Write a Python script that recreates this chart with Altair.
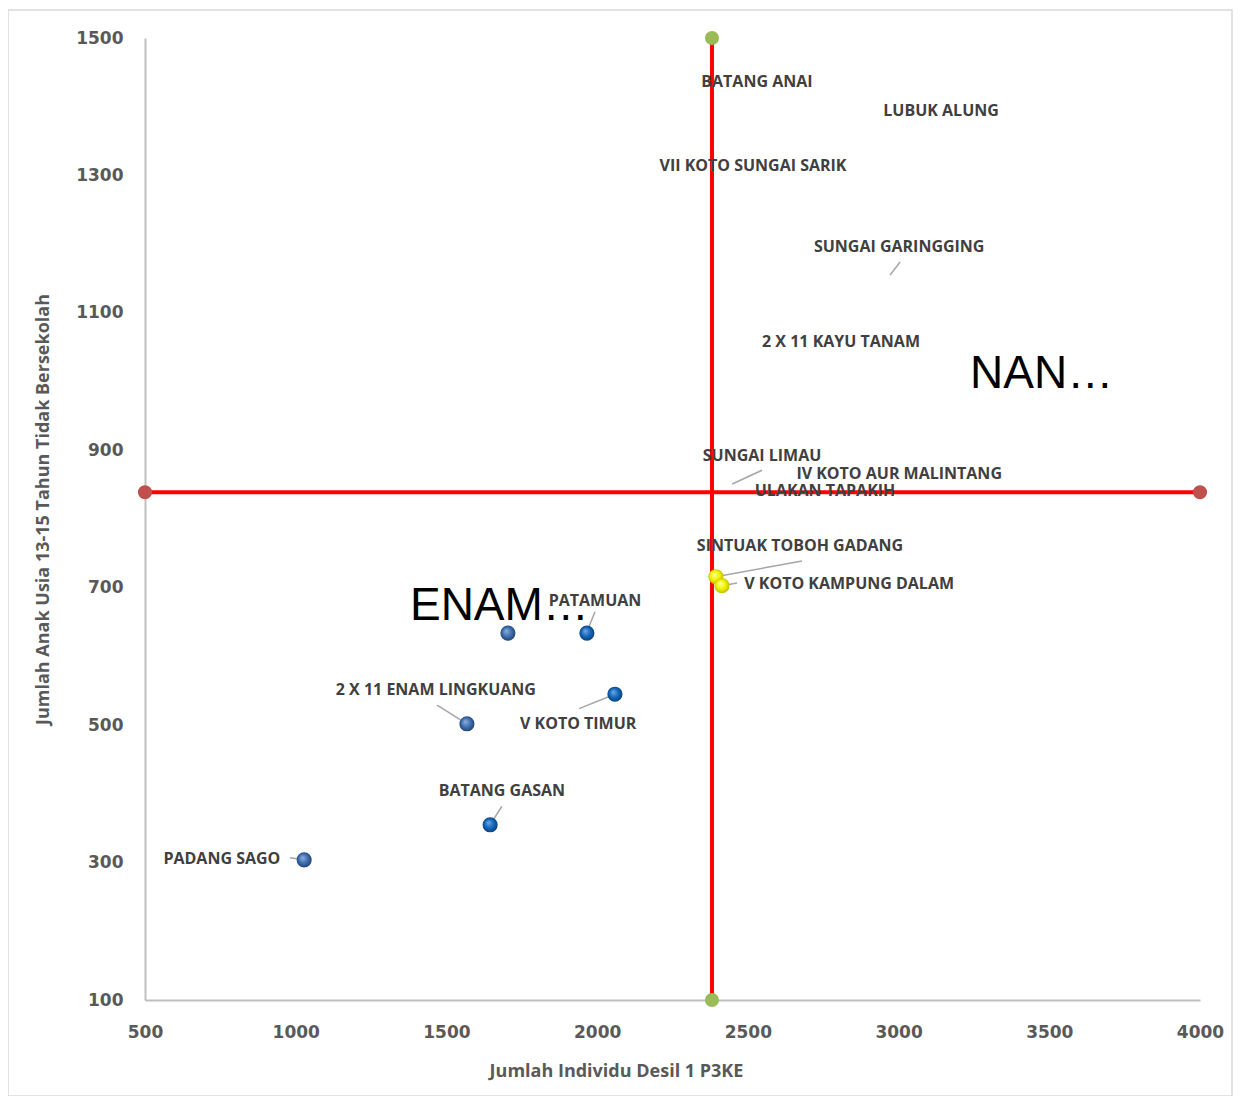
import altair as alt
import pandas as pd

# ---- data ----
pt_names = ["", "PATAMUAN", "V KOTO TIMUR", "2 X 11 ENAM LINGKUANG", "BATANG GASAN", "PADANG SAGO",
            "SINTUAK TOBOH GADANG", "V KOTO KAMPUNG DALAM"]
pt_x = [1704, 1966, 2059, 1568, 1645, 1028, 2394, 2414]
pt_y = [634, 634, 545, 502, 355, 304, 716, 703]
pt_group = ["steel", "blue", "blue", "steel", "blue", "steel", "yellow", "yellow"]

lbl_names = ["BATANG ANAI", "LUBUK ALUNG", "VII KOTO SUNGAI SARIK", "SUNGAI GARINGGING",
             "2 X 11 KAYU TANAM", "SUNGAI LIMAU", "IV KOTO AUR MALINTANG", "ULAKAN TAPAKIH",
             "SINTUAK TOBOH GADANG", "V KOTO KAMPUNG DALAM", "PATAMUAN", "2 X 11 ENAM LINGKUANG",
             "V KOTO TIMUR", "BATANG GASAN", "PADANG SAGO"]
lbl_x = [2530, 3141, 2517, 3002, 2809, 2547, 3002, 2756, 2673, 2836, 1993, 1465, 1937, 1684, 755]
lbl_y = [1436, 1394, 1314, 1196, 1058, 892, 866, 841, 761, 706, 681, 551, 502, 404, 305]

lead_x1 = [3005, 2547, 1993, 1469, 1940, 1684, 981, 2680, 2464]
lead_y1 = [1174, 871, 665, 529, 524, 382, 307, 739, 707]
lead_x2 = [2972, 2448, 1966, 1568, 2059, 1645, 1028, 2394, 2414]
lead_y2 = [1155, 851, 636, 502, 545, 355, 304, 716, 703]

quad_names = ["NAN…", "ENAM…"]
quad_x = [3237, 1379]
quad_y = [991, 653]

mean_x = 2381
mean_y = 839
x_min, x_max = 500, 4000
y_min, y_max = 100, 1500

pts = pd.DataFrame({"name": pt_names, "x": pt_x, "y": pt_y, "grp": pt_group})
lbls = pd.DataFrame({"name": lbl_names, "x": lbl_x, "y": lbl_y})
leads = pd.DataFrame({"x": lead_x1, "y": lead_y1, "x2": lead_x2, "y2": lead_y2})
quads = pd.DataFrame({"name": quad_names, "x": quad_x, "y": quad_y})
rules = pd.DataFrame({"x": [mean_x, x_min], "y": [y_min, mean_y],
                      "x2": [mean_x, x_max], "y2": [y_max, mean_y]})
ends = pd.DataFrame({"x": [mean_x, mean_x, x_min, x_max],
                     "y": [y_max, y_min, mean_y, mean_y],
                     "c": ["g", "g", "r", "r"]})

xs = alt.Scale(domain=[x_min, x_max], nice=False, zero=False)
ys = alt.Scale(domain=[y_min, y_max], nice=False, zero=False)

grey = "#595959"
x_axis = alt.Axis(values=list(range(500, 4001, 500)), format="d", grid=False, ticks=False,
                  domainColor="#BFBFBF", domainWidth=2, labelFlush=False,
                  labelFont="DejaVu Sans", labelFontWeight="bold", labelFontSize=17,
                  labelColor=grey, labelPadding=24,
                  title="Jumlah Individu Desil 1 P3KE", titleFont="Open Sans",
                  titleFontWeight="bold", titleFontSize=18, titleColor=grey,
                  titleX=471, titleY=71, titleAlign="center", titleBaseline="middle")
y_axis = alt.Axis(values=list(range(100, 1501, 200)), format="d", grid=False, ticks=False,
                  domainColor="#BFBFBF", domainWidth=2, labelFlush=False,
                  labelFont="DejaVu Sans", labelFontWeight="bold", labelFontSize=17,
                  labelColor=grey, labelPadding=22,
                  title="Jumlah Anak Usia 13-15 Tahun Tidak Bersekolah", titleFont="Open Sans",
                  titleFontWeight="bold", titleFontSize=18, titleColor=grey,
                  titleX=-102, titleY=471, titleAlign="center", titleBaseline="middle",
                  titleAngle=-90)

X = alt.X("x:Q", scale=xs, axis=x_axis)
Y = alt.Y("y:Q", scale=ys, axis=y_axis)

frame = alt.Chart(pd.DataFrame({"a": [1]})).mark_rect(
    fillOpacity=0, stroke="#D9D9D9", strokeWidth=1.5, clip=False
).encode(x=alt.value(-137), x2=alt.value(1087), y=alt.value(-28), y2=alt.value(1058))

rule_layer = alt.Chart(rules).mark_rule(color="#FF0000", strokeWidth=4).encode(
    x=X, y=Y, x2="x2:Q", y2="y2:Q")

end_layer = alt.Chart(ends).mark_circle(size=200, opacity=1).encode(
    x=X, y=Y,
    color=alt.Color("c:N", scale=alt.Scale(domain=["g", "r"], range=["#9BBB59", "#C0504D"]),
                    legend=None))

lead_layer = alt.Chart(leads).mark_rule(color="#A6A6A6", strokeWidth=1.5).encode(
    x=X, y=Y, x2="x2:Q", y2="y2:Q")


def sphere(grp, light, mid, dark):
    grad = alt.RadialGradient(
        gradient="radial", x1=0.38, y1=0.35, r1=0.0, x2=0.5, y2=0.5, r2=0.55,
        stops=[alt.GradientStop(color=light, offset=0),
               alt.GradientStop(color=mid, offset=0.55),
               alt.GradientStop(color=dark, offset=1)])
    return alt.Chart(pts).transform_filter(alt.datum.grp == grp).mark_point(
        shape="circle", size=230, filled=True, fill=grad, opacity=1, strokeWidth=0
    ).encode(x=X, y=Y)


steel = sphere("steel", "#8DB0DE", "#3F6FAE", "#1E3E6E")
blue = sphere("blue", "#6FA8E8", "#1466B8", "#0A3A75")
yellow = sphere("yellow", "#FFFFA0", "#F2F200", "#B5B500")

label_layer = alt.Chart(lbls).mark_text(
    font="Open Sans", fontWeight="bold", fontSize=16, color="#404040",
    align="center", baseline="middle"
).encode(x=X, y=Y, text="name:N")

quad_layer = alt.Chart(quads).mark_text(
    font="Liberation Sans", fontSize=46, color="#000000", align="left", baseline="alphabetic"
).encode(x=X, y=Y, text="name:N")

chart = alt.layer(
    frame, rule_layer, end_layer, lead_layer, steel, blue, yellow,
    label_layer, quad_layer
).properties(
    width=1055, height=962,
    autosize=alt.AutoSizeParams(type="none"),
    padding={"left": 137, "top": 30, "right": 33, "bottom": 96},
).configure(background="white").configure_view(stroke="transparent")

chart.save("out.html", embed_options={"renderer": "svg", "actions": False})
